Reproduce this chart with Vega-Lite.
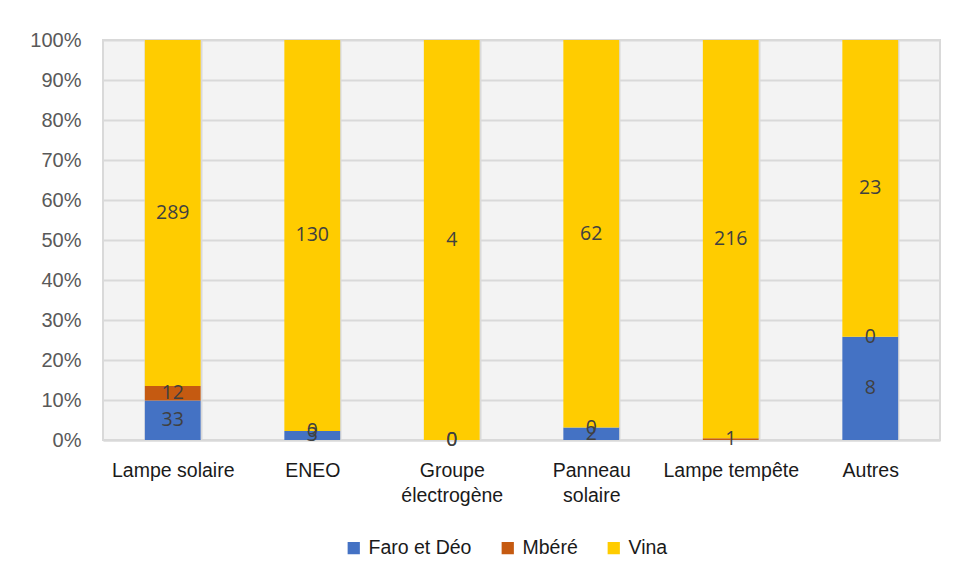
{
  "$schema": "https://vega.github.io/schema/vega-lite/v6.json",
  "width": 837,
  "height": 400,
  "autosize": {"type": "none"},
  "padding": {"left": 103, "top": 40, "right": 17, "bottom": 139},
  "background": "white",
  "config": {
    "font": "Liberation Sans",
    "view": {"fill": "#f3f3f3", "stroke": "#d9d9d9", "strokeWidth": 2}
  },
  "data": {
    "values": [
      {"cat": "Lampe solaire", "zone": "Faro et Déo", "o": 1, "value": 33},
      {"cat": "Lampe solaire", "zone": "Mbéré", "o": 2, "value": 12},
      {"cat": "Lampe solaire", "zone": "Vina", "o": 3, "value": 289},
      {"cat": "ENEO", "zone": "Faro et Déo", "o": 1, "value": 3},
      {"cat": "ENEO", "zone": "Mbéré", "o": 2, "value": 0},
      {"cat": "ENEO", "zone": "Vina", "o": 3, "value": 130},
      {"cat": "Groupe électrogène", "zone": "Faro et Déo", "o": 1, "value": 0},
      {"cat": "Groupe électrogène", "zone": "Mbéré", "o": 2, "value": 0},
      {"cat": "Groupe électrogène", "zone": "Vina", "o": 3, "value": 4},
      {"cat": "Panneau solaire", "zone": "Faro et Déo", "o": 1, "value": 2},
      {"cat": "Panneau solaire", "zone": "Mbéré", "o": 2, "value": 0},
      {"cat": "Panneau solaire", "zone": "Vina", "o": 3, "value": 62},
      {"cat": "Lampe tempête", "zone": "Mbéré", "o": 2, "value": 1},
      {"cat": "Lampe tempête", "zone": "Vina", "o": 3, "value": 216},
      {"cat": "Autres", "zone": "Faro et Déo", "o": 1, "value": 8},
      {"cat": "Autres", "zone": "Mbéré", "o": 2, "value": 0},
      {"cat": "Autres", "zone": "Vina", "o": 3, "value": 23}
    ]
  },
  "encoding": {
    "x": {
      "field": "cat",
      "type": "nominal",
      "sort": ["Lampe solaire", "ENEO", "Groupe électrogène", "Panneau solaire", "Lampe tempête", "Autres"],
      "scale": {"paddingInner": 0.6, "paddingOuter": 0.3},
      "axis": {
        "title": null,
        "labelAngle": 0,
        "labelFontSize": 19.5,
        "labelColor": "#1a1a1a",
        "labelPadding": 21,
        "labelLineHeight": 25,
        "labelLimit": 300,
        "labelOverlap": false,
        "ticks": false,
        "tickBand": "extent",
        "domainColor": "#d9d9d9",
        "domainWidth": 2,
        "grid": true,
        "gridColor": "#d9d9d9",
        "gridWidth": 2,
        "labelExpr": "datum.label == 'Groupe électrogène' ? ['Groupe', 'électrogène'] : datum.label == 'Panneau solaire' ? ['Panneau', 'solaire'] : datum.label"
      }
    },
    "order": {"field": "o"}
  },
  "layer": [
    {
      "mark": {"type": "bar"},
      "encoding": {
        "y": {
          "field": "value",
          "type": "quantitative",
          "stack": "normalize",
          "scale": {"domain": [0, 1]},
          "axis": {
            "title": null,
            "format": ".0%",
            "values": [0, 0.1, 0.2, 0.3, 0.4, 0.5, 0.6, 0.7, 0.8, 0.9, 1],
            "tickCount": 20,
            "labelFontSize": 20,
            "labelColor": "#595959",
            "labelPadding": 22,
            "labelOverlap": false,
            "ticks": false,
            "domain": false,
            "gridColor": "#d9d9d9",
            "gridWidth": 2
          }
        },
        "color": {
          "field": "zone",
          "type": "nominal",
          "scale": {"domain": ["Faro et Déo", "Mbéré", "Vina"], "range": ["#4472C4", "#C55A11", "#FFCC00"]},
          "legend": {
            "title": null,
            "orient": "none",
            "legendX": 241,
            "legendY": 498,
            "direction": "horizontal",
            "symbolType": "square",
            "symbolSize": 150,
            "symbolStrokeWidth": 0,
            "labelFontSize": 19.5,
            "labelColor": "#1a1a1a",
            "labelOffset": 5,
            "columnPadding": 26
          }
        }
      }
    },
    {
      "mark": {"type": "text", "font": "Open Sans", "fontSize": 19.5, "color": "#404040", "baseline": "middle"},
      "encoding": {
        "y": {
          "field": "value",
          "type": "quantitative",
          "stack": "normalize",
          "bandPosition": 0.5,
          "scale": {"domain": [0, 1]},
          "axis": {
            "title": null,
            "format": ".0%",
            "values": [0, 0.1, 0.2, 0.3, 0.4, 0.5, 0.6, 0.7, 0.8, 0.9, 1],
            "tickCount": 20,
            "labelFontSize": 20,
            "labelColor": "#595959",
            "labelPadding": 22,
            "labelOverlap": false,
            "ticks": false,
            "domain": false,
            "gridColor": "#d9d9d9",
            "gridWidth": 2
          }
        },
        "text": {"field": "value", "type": "quantitative"}
      }
    }
  ]
}
